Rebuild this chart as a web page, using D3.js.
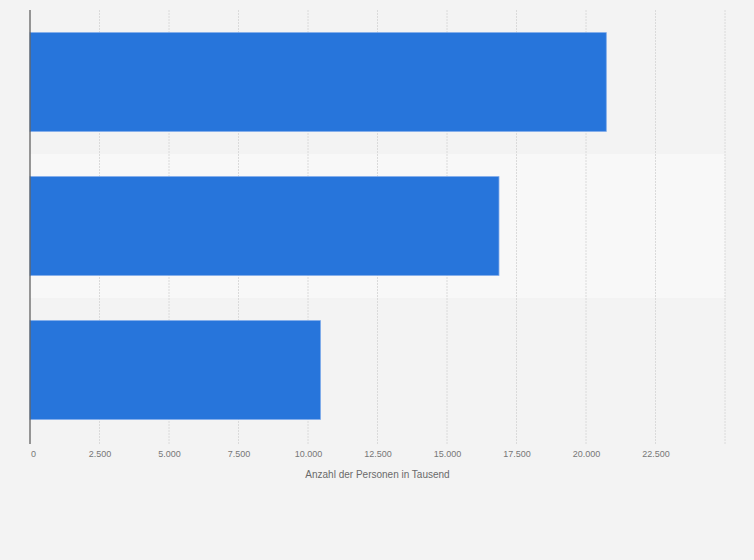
<!DOCTYPE html>
<html><head><meta charset="utf-8">
<script src="https://cdn.jsdelivr.net/npm/d3@7"></script>
<style>body{margin:0;background:#f3f3f3;}svg{display:block;font-family:"Liberation Sans",Arial,sans-serif;}</style>
</head><body>
<svg id="c" width="754" height="560"></svg>
<script>
const categories = ["A", "B", "C"];
const values = [20730, 16870, 10450];
const tickValues = [0, 2500, 5000, 7500, 10000, 12500, 15000, 17500, 20000, 22500];
const gridValues = [2500, 5000, 7500, 10000, 12500, 15000, 17500, 20000, 22500, 25000];
const axisTitle = "Anzahl der Personen in Tausend";

const svg = d3.select("#c");
const m = {left: 30, right: 29, top: 10, bottom: 118};
const W = 754, H = 560;
const x = d3.scaleLinear().domain([0, 25000]).range([m.left, W - m.right]);
const y = d3.scaleBand().domain(categories).range([m.top, H - m.bottom]).paddingInner(0.314).paddingOuter(0.157);
const yb = d3.scaleBand().domain(categories).range([m.top, H - m.bottom]);

svg.append("rect").attr("width", W).attr("height", H).attr("fill", "#f3f3f3");
// alternating band
svg.selectAll("rect.band").data(categories.filter((d, i) => i % 2 === 1)).enter().append("rect")
  .attr("x", x(0)).attr("width", x(25000) - x(0))
  .attr("y", d => yb(d)).attr("height", yb.bandwidth()).attr("fill", "#f8f8f8");

// grid
svg.selectAll("line.grid").data(gridValues).enter().append("line")
  .attr("x1", d => x(d)).attr("x2", d => x(d)).attr("y1", m.top).attr("y2", H - m.bottom + 2)
  .attr("stroke", "#dadada").attr("stroke-width", 1).attr("stroke-dasharray", "2,1");

// bars
svg.selectAll("rect.bar").data(values).enter().append("rect")
  .attr("x", x(0)).attr("y", (d, i) => y(categories[i]))
  .attr("width", d => x(d) - x(0)).attr("height", y.bandwidth())
  .attr("fill", "#2775db").attr("stroke", "#7eaaea").attr("stroke-width", 0.8);

// axis line
svg.append("line").attr("x1", x(0)).attr("x2", x(0)).attr("y1", m.top).attr("y2", H - m.bottom + 2)
  .attr("stroke", "#555").attr("stroke-width", 1.2);

// x axis labels
const ax = d3.axisBottom(x).tickValues(tickValues).tickSize(0).tickPadding(0)
  .tickFormat(d => d3.format(",")(d).replace(/,/g, "."));
const g = svg.append("g").attr("transform", `translate(0,${H - m.bottom + 9})`).call(ax);
g.select(".domain").remove();
g.selectAll("text").attr("fill", "#777").attr("font-size", "9px").attr("font-family", '"Liberation Sans",Arial,sans-serif')
  .attr("dx", (d, i) => i === 0 ? 3 : 0);

svg.append("text").attr("x", (x(0) + x(25000)) / 2).attr("y", 478).attr("text-anchor", "middle")
  .attr("fill", "#6a6a6a").attr("font-size", "10px").text(axisTitle);
</script>
</body></html>
